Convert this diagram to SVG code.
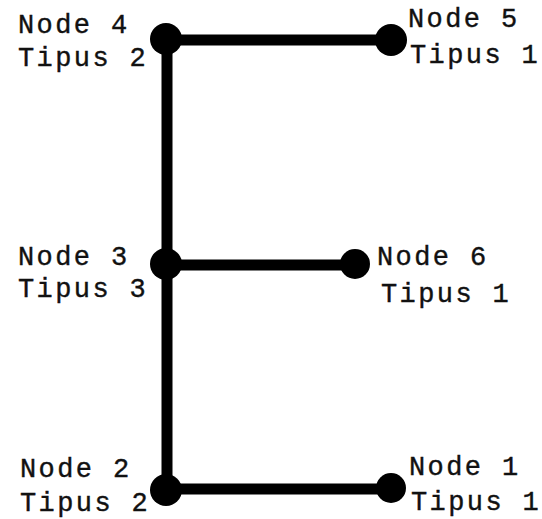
<svg xmlns="http://www.w3.org/2000/svg" width="542" height="519" viewBox="0 0 542 519">
<style>
.e{stroke:#000;stroke-width:11;fill:none}
.n{fill:#000}
.t{font-family:"Courier New","Liberation Mono",monospace;font-size:27px;letter-spacing:2.4px;fill:#111;stroke:#111;stroke-width:0.4}
</style>
<rect width="542" height="519" fill="#fff"/>
<g id="connectors">
<line class="e" x1="167" y1="39" x2="167" y2="490"/>
<line class="e" x1="167" y1="40" x2="391" y2="40"/>
<line class="e" x1="167" y1="265" x2="355" y2="265"/>
<line class="e" x1="167" y1="489" x2="391" y2="489"/>
</g>
<g id="node4"><circle class="n" cx="166" cy="39" r="16"/><text class="t" x="18" y="33">Node 4</text><text class="t" x="18" y="66">Tipus 2</text></g>
<g id="node5"><circle class="n" cx="391" cy="40" r="16"/><text class="t" x="408" y="27">Node 5</text><text class="t" x="410" y="63">Tipus 1</text></g>
<g id="node3"><circle class="n" cx="166" cy="264" r="16"/><text class="t" x="18" y="265">Node 3</text><text class="t" x="18" y="297">Tipus 3</text></g>
<g id="node6"><circle class="n" cx="355" cy="264" r="15"/><text class="t" x="377" y="265">Node 6</text><text class="t" x="381" y="302">Tipus 1</text></g>
<g id="node2"><circle class="n" cx="166" cy="490" r="16"/><text class="t" x="20" y="477">Node 2</text><text class="t" x="20" y="511">Tipus 2</text></g>
<g id="node1"><circle class="n" cx="391" cy="488" r="15"/><text class="t" x="409" y="475">Node 1</text><text class="t" x="411" y="510">Tipus 1</text></g>
</svg>
